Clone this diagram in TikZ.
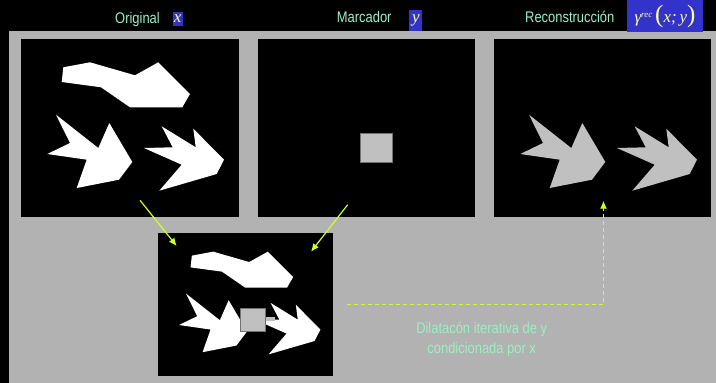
\documentclass[tikz,border=0pt]{standalone}
\usepackage{fontspec}
\usetikzlibrary{arrows.meta}
\newfontfamily\narrowsans[FakeStretch=0.84]{Liberation Sans}
\newfontfamily\tmsfont{Liberation Serif}
\definecolor{bggrey}{HTML}{B2B2B2}
\definecolor{recgrey}{HTML}{C0C0C0}
\definecolor{mint}{HTML}{99F0C4}
\definecolor{boxblue}{HTML}{3333CC}
\definecolor{paleyellow}{HTML}{FFFF99}
\definecolor{lime}{HTML}{CCFF22}
\newcommand\blobshape[1]{\fill[#1] (42.3,28.3) -- (69,23.3) -- (114,36.3) -- (137.3,23.3) -- (169,55) -- (161.3,68.3) -- (109,68.3) -- (80,48.3) -- (40.7,43) -- cycle;}
\newcommand\leftarrowshape[1]{\fill[#1] (35,75.7) -- (77.3,109) -- (88.3,84) -- (111.3,123) -- (98,140.7) -- (55.7,149) -- (65.7,120.7) -- (26.3,115) -- (49,104) -- cycle;}
\newcommand\rightarrowshape[1]{\fill[#1] (140.7,87.3) -- (174.7,108.3) -- (172.3,89.7) -- (203,120.7) -- (195.7,135) -- (138.3,151.7) -- (160.7,125.7) -- (123,109) -- (151.7,108.3) -- cycle;}
\newcommand\markersquare{\filldraw[fill=recgrey,draw=black!55,line width=0.6pt] (102.3,94.7) rectangle (134,123.3);}
\tikzset{
  panel/.style={fill=black},
  titletext/.style={text=mint,font=\narrowsans\fontsize{15.4}{18}\selectfont,inner sep=0pt,anchor=base west},
  mathbox/.style={fill=boxblue,inner sep=0pt,text=paleyellow,font=\tmsfont\itshape\fontsize{17}{17}\selectfont},
  flowarrow/.style={draw=lime,line width=1.2pt,-{Latex[length=8pt,width=7pt]}},
  dashline/.style={draw=lime,line width=1.5pt,dash pattern=on 4pt off 3pt},
}
\begin{document}
\begin{tikzpicture}[x=1pt,y=-1pt]
\useasboundingbox (0,0) rectangle (716,383);
\fill[black] (0,0) rectangle (716,383);
\fill[bggrey] (9.3,31) rectangle (716,383);
% panels
\fill[panel] (21,39) rectangle (239,217);
\fill[panel] (258,39) rectangle (475,217);
\fill[panel] (494,39) rectangle (711,217);
\fill[panel] (158,233) rectangle (333,376);
% original
\begin{scope}[shift={(21,39)}]
  \blobshape{white}
  \leftarrowshape{white}
  \rightarrowshape{white}
\end{scope}
% marker
\begin{scope}[shift={(258,39)}]
  \markersquare
\end{scope}
% reconstruction
\begin{scope}[shift={(494,39)}]
  \leftarrowshape{recgrey}
  \rightarrowshape{recgrey}
\end{scope}
% combined
\begin{scope}[shift={(158,233)},scale=0.8]
  \blobshape{white}
  \leftarrowshape{white}
  \rightarrowshape{white}
  \fill[recgrey] (134,105.3) rectangle (146,110.2);
  \markersquare
\end{scope}
% titles
\node[titletext] (t1) at (115,23.3) {Original};
\node[titletext] (t2) at (336.7,22.7) {Marcador};
\node[titletext] (t3) at (525,22.7) {Reconstrucción};
\node[mathbox,minimum width=10pt,minimum height=13.4pt] (bx) at (177.7,19) {x};
\node[mathbox,minimum width=13pt,minimum height=20.7pt] (by) at (415.8,20.3) {y};
\node[mathbox,minimum width=75.4pt,minimum height=32.3pt] (bg) at (665,16.2)
  {γ\raisebox{5pt}{\fontsize{9}{9}\selectfont rec}\,{\upshape\fontsize{25}{25}\selectfont(}x;\,y{\upshape\fontsize{25}{25}\selectfont)}};
% connectors
\coordinate (a1s) at (140,200.3);
\coordinate (a1e) at (176.7,246);
\coordinate (a2s) at (347.7,204.7);
\coordinate (a2e) at (311,251.7);
\coordinate (ds) at (347.3,304.5);
\coordinate (dc) at (603.5,304.5);
\coordinate (de) at (603.5,200.7);
\draw[flowarrow] (a1s) -- (a1e);
\draw[flowarrow] (a2s) -- (a2e);
\draw[dashline] (ds) -- (dc) -- ([yshift=-8pt]de);
\draw[flowarrow] ([yshift=-9pt]de) -- (de);
% caption
\node[text=mint,font=\narrowsans\fontsize{15.4}{19.5}\selectfont,align=center,inner sep=0pt,anchor=base] (cap) at (481.7,353.3)
  {Dilatacón iterativa de y\\condicionada por x};
\end{tikzpicture}
\end{document}
